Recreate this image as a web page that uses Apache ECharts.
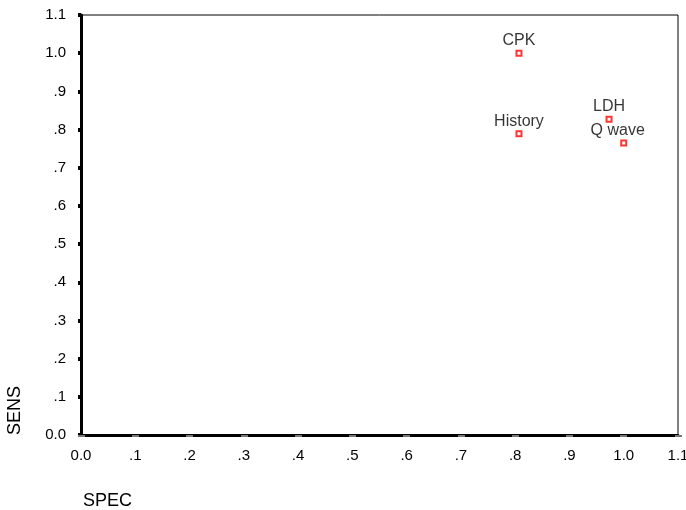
<!DOCTYPE html>
<html>
<head>
<meta charset="utf-8">
<script src="https://cdn.jsdelivr.net/npm/echarts@6/dist/echarts.min.js"></script>
<style>html,body{margin:0;padding:0;background:#fff}#c{width:686px;height:510px}</style>
</head>
<body>
<div id="c"></div>
<script>
const names = ['CPK', 'History', 'LDH', 'Q wave'];
const spec = [0.807, 0.807, 0.973, 1.0];
const sens = [1.0, 0.789, 0.827, 0.765];
const xTickLabels = ['0.0', '.1', '.2', '.3', '.4', '.5', '.6', '.7', '.8', '.9', '1.0', '1.1'];
const yTickLabels = ['0.0', '.1', '.2', '.3', '.4', '.5', '.6', '.7', '.8', '.9', '1.0', '1.1'];

const font = '"Liberation Sans", Arial, sans-serif';
const chart = echarts.init(document.getElementById('c'), null, {renderer: 'canvas'});
const data = names.map((n, i) => {
  const d = {name: n, value: [spec[i], sens[i]]};
  if (n === 'Q wave') d.label = {offset: [-6, 0]};
  return d;
});
chart.setOption({
  animation: false,
  backgroundColor: '#fff',
  grid: {left: 81, right: 8, top: 15, bottom: 75, outerBoundsMode: 'none', containLabel: false,
    show: true, borderColor: '#000', borderWidth: 1, backgroundColor: 'transparent'},
  xAxis: {
    type: 'value', min: 0, max: 1.1, interval: 0.1,
    splitLine: {show: false},
    axisLine: {show: true, onZero: false, lineStyle: {color: '#000', width: 3}},
    axisTick: {show: true, length: 2, lineStyle: {color: '#777', width: 7}},
    axisLabel: {color: '#000', fontSize: 15, fontFamily: font, margin: 13,
      formatter: v => xTickLabels[Math.round(v * 10)]}
  },
  yAxis: {
    type: 'value', min: 0, max: 1.1, interval: 0.1,
    splitLine: {show: false},
    axisLine: {show: true, onZero: false, lineStyle: {color: '#000', width: 3}},
    axisTick: {show: true, length: 3, lineStyle: {color: '#000', width: 4}},
    axisLabel: {color: '#000', fontSize: 15, fontFamily: font, margin: 15,
      formatter: v => yTickLabels[Math.round(v * 10)]}
  },
  graphic: [
    {type: 'text', x: 15, y: 435, rotation: Math.PI / 2,
      style: {text: 'SENS', font: '18px ' + font, fill: '#000', textAlign: 'left', textVerticalAlign: 'middle'}},
    {type: 'text', x: 83, y: 501,
      style: {text: 'SPEC', font: '18px ' + font, fill: '#000', textAlign: 'left', textVerticalAlign: 'middle'}}
  ],
  series: [{
    type: 'scatter',
    data: data,
    symbol: 'rect',
    symbolSize: 5,
    itemStyle: {color: '#fff', borderColor: '#ff0000', borderWidth: 2},
    label: {show: true, position: 'top', distance: 1, formatter: '{b}', color: '#000', fontSize: 16, fontFamily: font}
  }]
});
</script>
</body>
</html>
